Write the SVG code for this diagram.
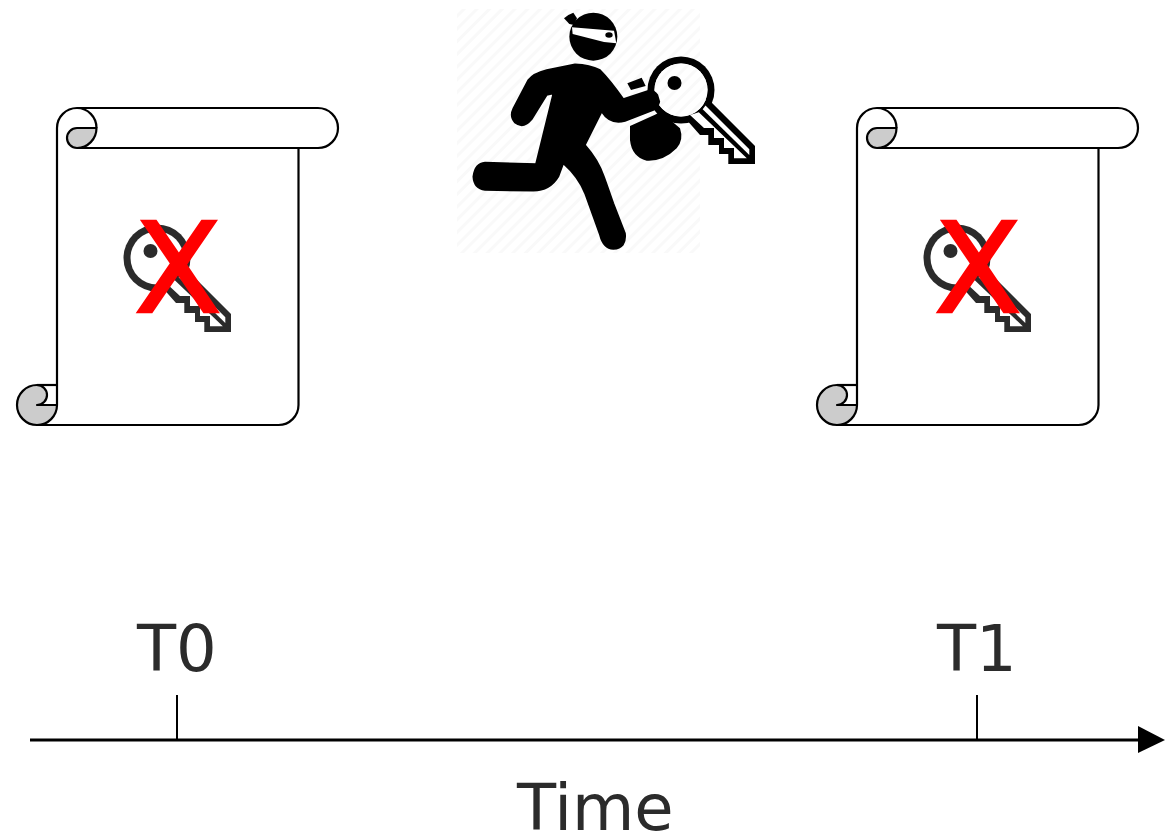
<svg xmlns="http://www.w3.org/2000/svg" xmlns:xlink="http://www.w3.org/1999/xlink" width="1168" height="835" viewBox="0 0 1168 835">
<style>
.s{stroke:#000;stroke-width:2.200;fill:#fff;stroke-linejoin:round}
.g{stroke:#000;stroke-width:2.200;fill:#ccc;stroke-linejoin:round}
.n{stroke:#000;stroke-width:2.200;fill:none}
.t{font-family:"DejaVu Sans",Verdana,sans-serif;font-size:64px;fill:#2b2b2b}
.x{font-family:"DejaVu Sans",Verdana,sans-serif;font-size:125px;fill:#f00;stroke:#f00;stroke-width:2.500;text-anchor:middle}
.w{fill:#fff}
</style>
<defs>
<pattern id="hatch" width="9" height="9" patternUnits="userSpaceOnUse" patternTransform="rotate(45)"><rect width="9" height="9" fill="#fff"/><rect width="3" height="9" fill="#f9f9f9"/></pattern>
<g id="scroll">
<path class="s" d="M57 128a20 20 0 0 1 20-20H318a20 20 0 0 1 0 40H298.500V405a20 20 0 0 1-20 20H37V405H57Z"/>
<path class="g" d="M96.500 128a19.500 20 0 0 1-19.500 20a10 10 0 0 1-10-10a10 10 0 0 1 10-10Z"/>
<path class="n" d="M77 108a19.500 20 0 0 1 19.500 20"/>
<path class="n" d="M77 148H300"/>
<path class="g" d="M57 405a20 20 0 0 1-20 20a20 20 0 0 1 0-40a10 10 0 0 1 0 20Z"/>
<path class="n" d="M37 385H57"/>
</g>
<g id="key">
<circle cx="157" cy="258" r="33.500"/>
<path d="M184.300 267.300L231 314V332H204.300V322H195V313H184.300V303H176L164.300 289.700Z"/>
<circle class="w" cx="157" cy="258" r="26.500"/>
<path class="w" d="M174.800 280.200L222.800 326.300H210V316H200V306H190V296H180L166 283Z"/>
<path class="w" d="M181.500 273.500L225.300 317.300V323L178.700 277.300Z"/>
<circle cx="150.500" cy="251" r="7"/>
</g>
</defs>
<g id="scroll-t0">
<use href="#scroll"/>
<use href="#key" fill="#2b2b2b"/>
<text class="x" transform="translate(178 312) scale(1.02 1)">X</text>
</g>
<g id="scroll-t1">
<use href="#scroll" x="800"/>
<use href="#key" x="800" fill="#2b2b2b"/>
<text class="x" transform="translate(978 312) scale(1.02 1)">X</text>
</g>
<g id="thief">
<rect x="457" y="9" width="243" height="244" fill="url(#hatch)"/>
<g transform="translate(450 0) scale(0.33333)">
<path d="M540 378L615 344L632 335L690 385Q702 420 680 445Q640 485 590 482Q545 470 540 420Z"/>
</g>
<use href="#key" x="524" y="-168" fill="#000"/>
<circle cx="681" cy="90" r="26.500" fill="url(#hatch)"/>
<circle cx="674.500" cy="83" r="7"/>
<g transform="translate(450 0) scale(0.33333)">
<circle cx="430" cy="110" r="72"/>
<path d="M342 55L355 45L370 38L381 55L372 75L358 72Z"/>
<path d="M366 82L492 92L499 130L462 126L368 102Z" fill="#fff"/>
<ellipse cx="477" cy="105" rx="11" ry="8"/>
<path stroke="#000" stroke-width="5" stroke-linejoin="round" d="M375 193Q420 195 450 210Q480 240 520 297L595 272Q612 270 622 285L628 305Q625 320 610 330L525 363Q480 375 455 335L405 435Q445 480 462 530Q480 580 490 610L525 700Q530 745 490 747Q460 745 450 705L405 580Q385 530 340 490L325 530Q300 572 250 572L105 570Q72 565 70 530Q75 490 105 488L258 492L310 280L290 285L245 358Q220 388 195 368Q178 350 190 325L235 240Q250 220 290 210Z"/>
<path d="M532 250L575 233L587 258L543 270Z"/>
</g>
</g>
<g id="connectors">
<path d="M30 740H1140" stroke="#000" stroke-width="3" fill="none"/>
<path d="M1138 726L1165 740L1138 753Z" fill="#000"/>
<path d="M177 695V740M977 695V740" stroke="#000" stroke-width="2" fill="none"/>
</g>
<g id="labels">
<text class="t" x="137" y="671">T0</text>
<text class="t" x="937" y="671">T1</text>
<text class="t" x="517" y="830">Time</text>
</g>
</svg>
